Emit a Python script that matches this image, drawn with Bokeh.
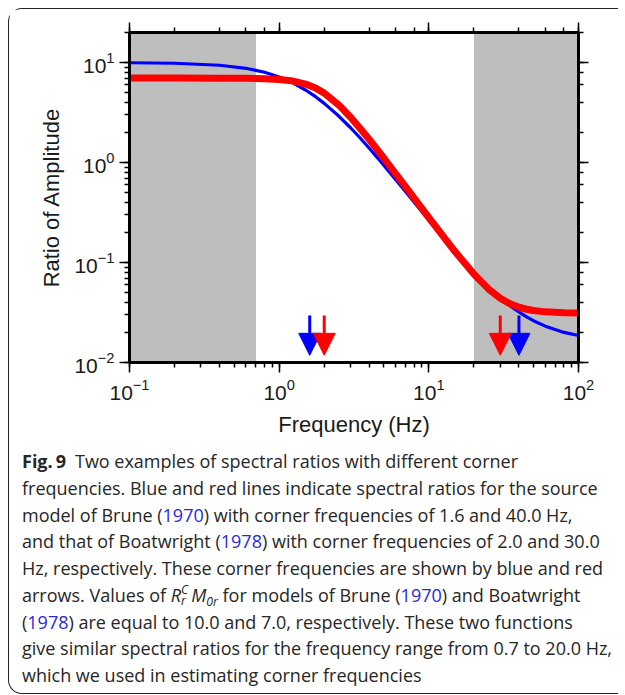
from bokeh.plotting import figure
from bokeh.models import (Range1d, LogAxis, LogTicker, Arrow, NormalHead, Div,
                          ColumnDataSource, CustomJSTickFormatter)
from bokeh.layouts import column
from bokeh.embed import file_html
from bokeh.resources import INLINE

# ---- data ----
freq = [0.1, 0.2, 0.4, 0.6, 0.8, 1.0, 1.2, 1.5, 1.75, 2.0, 2.5, 3.0, 3.5, 4.0,
        5.0, 7.0, 10.0, 15.0, 20.0, 25.0, 30.0, 35.0, 40.0, 45.0, 50.0, 60.0,
        80.0, 100.0]
brune_ratio = [9.96, 9.85, 9.41, 8.77, 8.00, 7.19, 6.40, 5.32, 4.56, 3.91, 2.92,
               2.23, 1.74, 1.39, 0.943, 0.512, 0.265, 0.128, 0.0795, 0.0567,
               0.0443, 0.0368, 0.0320, 0.0286, 0.0262, 0.0231, 0.0200, 0.0186]
boatwright_ratio = [7.00, 7.00, 6.99, 6.97, 6.91, 6.79, 6.59, 6.10, 5.56, 4.95,
                    3.77, 2.84, 2.17, 1.70, 1.11, 0.570, 0.281, 0.128, 0.0766,
                    0.0545, 0.0440, 0.0386, 0.0357, 0.0341, 0.0331, 0.0321,
                    0.0314, 0.0312]
brune_corners = [1.6, 40.0]
boatwright_corners = [2.0, 30.0]
band_left = [0.1, 20.0]
band_right = [0.7, 100.0]

FONT = "Liberation Sans"

p = figure(x_axis_type="log", y_axis_type="log",
           x_range=Range1d(0.1, 100), y_range=Range1d(0.01, 20),
           frame_width=449, frame_height=330,
           min_border_left=120, min_border_right=40,
           min_border_top=23, min_border_bottom=82,
           output_backend="svg", toolbar_location=None)
p.xgrid.visible = False
p.ygrid.visible = False
p.outline_line_color = None

# shaded frequency bands
p.quad(left=band_left, right=band_right, bottom=0.01, top=20,
       fill_color="#bebebe", line_color=None)

# curves
p.line(freq, brune_ratio, line_color="#0000ff", line_width=3.2)
p.line(freq, boatwright_ratio, line_color="#ff0000", line_width=7)

# arrows marking corner frequencies
for corners, col in ((brune_corners, "#0000ff"), (boatwright_corners, "#ff0000")):
    src = ColumnDataSource(dict(x=corners))
    p.add_layout(Arrow(end=NormalHead(size=22, fill_color=col, line_color=col, line_width=1),
                       x_start="x", x_end="x", y_start=0.0295, y_end=0.0118,
                       line_color=col, line_width=3, source=src))

p.add_layout(LogAxis(ticker=LogTicker(), formatter=CustomJSTickFormatter(code="return ''")), "above")
p.add_layout(LogAxis(ticker=LogTicker(), formatter=CustomJSTickFormatter(code="return ''")), "right")

for ax in p.axis:
    ax.axis_line_width = 3
    ax.axis_line_color = "black"
    ax.major_tick_line_width = 1.5
    ax.minor_tick_line_width = 1.5
    ax.major_tick_line_color = "black"
    ax.minor_tick_line_color = "black"
    ax.major_tick_in = 0
    ax.major_tick_out = 10
    ax.minor_tick_in = 0
    ax.minor_tick_out = 5
    ax.major_label_text_font = FONT
    ax.major_label_text_font_size = "21px"
    ax.major_label_text_color = "#1a1a1a"
    ax.axis_label_text_font = FONT
    ax.axis_label_text_font_size = "22px"
    ax.axis_label_text_font_style = "normal"
    ax.axis_label_text_color = "#1a1a1a"

xb = p.below[0]
yl = p.left[0]
xb.axis_label = "Frequency (Hz)"
yl.axis_label = "Ratio of Amplitude"
xb.major_label_standoff = 6
xb.axis_label_standoff = 9
yl.major_label_standoff = 5
yl.axis_label_standoff = 7

link = '<span style="color:#2a2ad8">'
rc = ('<i>R</i><span style="display:inline-block;vertical-align:-0.3em;'
      'line-height:0.95em;font-size:0.68em;font-style:italic;text-align:left">'
      '<span style="display:block">C</span><span style="display:block">r</span></span>'
      '&thinsp;<i>M</i><span style="font-size:0.68em;font-style:italic;'
      'vertical-align:-0.3em;line-height:0">0r</span>')
lines = [
    '<b>Fig.&thinsp;9</b>&ensp;Two examples of spectral ratios with different corner',
    'frequencies. Blue and red lines indicate spectral ratios for the source',
    'model of Brune (' + link + '1970</span>) with corner frequencies of 1.6 and 40.0 Hz,',
    'and that of Boatwright (' + link + '1978</span>) with corner frequencies of 2.0 and 30.0',
    'Hz, respectively. These corner frequencies are shown by blue and red',
    'arrows. Values of ' + rc + ' for models of Brune (' + link + '1970</span>) and Boatwright',
    '(' + link + '1978</span>) are equal to 10.0 and 7.0, respectively. These two functions',
    'give similar spectral ratios for the frequency range from 0.7 to 20.0 Hz,',
    'which we used in estimating corner frequencies',
]
html = ('<div style="font-family:\'Open Sans\';font-size:18px;line-height:26.75px;'
        'color:#262626;white-space:nowrap;padding-left:13px;padding-top:4px;">'
        + '<br>'.join(lines) + '</div>')
caption = Div(text=html, width=609, height=249, margin=(0, 0, 0, 0))

layout = column(p, caption, margin=(8, 0, 0, 8),
                styles={"border-top": "1.5px solid #222",
                        "border-left": "1.5px solid #222",
                        "border-bottom": "1.5px solid #222",
                        "border-radius": "14px 0 0 14px"})

open("out.html", "w").write(file_html(layout, INLINE))
